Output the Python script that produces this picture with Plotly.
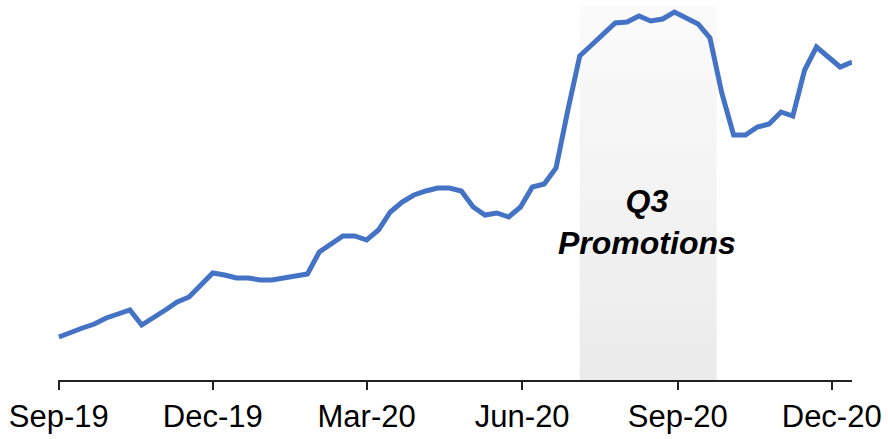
import plotly.graph_objects as go
import pandas as pd

# weekly series, Sep 2019 - Dec 2020
week_start = "2019-09-01"
sales = [43, 48, 52, 56, 62, 66, 70, 55, 62, 70,
         78, 83, 95, 107, 105, 102, 102, 100, 100, 102,
         105, 106, 128, 136, 144, 144, 140, 150, 168, 178,
         185, 189, 192, 192, 189, 173, 165, 167, 163, 173,
         193, 196, 212, 270, 324, 335, 346, 357, 358, 364,
         359, 361, 368, 362, 356, 342, 287, 245, 245, 253,
         256, 268, 264, 310, 333, 323, 313, 318]
weeks = pd.date_range(week_start, periods=len(sales), freq="7D")

tick_dates = ["2019-09-01", "2019-12-01", "2020-03-01", "2020-06-01", "2020-09-01", "2020-12-01"]
tick_labels = ["Sep-19", "Dec-19", "Mar-20", "Jun-20", "Sep-20", "Dec-20"]

promo_start = "2020-07-05"
promo_end = "2020-09-24"
promo_label = "Q3<br>Promotions"

y_range = [0, 374]

fig = go.Figure()

# shaded promo window
fig.add_trace(go.Scatter(
    x=[promo_start, promo_end, promo_end, promo_start, promo_start],
    y=[y_range[0], y_range[0], y_range[1], y_range[1], y_range[0]],
    mode="lines",
    line=dict(width=0),
    fill="toself",
    fillgradient=dict(type="vertical",
                      colorscale=[[0, "#ebebeb"], [1, "#fbfbfb"]]),
    hoverinfo="skip",
    showlegend=False,
))

fig.add_trace(go.Scatter(
    x=weeks,
    y=sales,
    mode="lines",
    line=dict(color="#4472C4", width=5),
    showlegend=False,
))

fig.add_annotation(
    x="2020-08-14", y=158,
    text="<b><i>" + promo_label + "</i></b>",
    showarrow=False,
    font=dict(family="Liberation Sans, Arial", size=32, color="black"),
    yanchor="middle",
)

fig.update_layout(
    width=888, height=439,
    margin=dict(l=58, r=36, t=6, b=59),
    plot_bgcolor="white",
    paper_bgcolor="white",
    font=dict(family="Liberation Sans, Arial", color="black"),
)

fig.update_xaxes(
    range=["2019-08-31 12:00", "2020-12-13"],
    tickvals=tick_dates,
    ticktext=tick_labels,
    tickfont=dict(size=31, color="black"),
    ticks="outside", ticklen=8, tickwidth=1.5, tickcolor="#222",
    showline=True, linecolor="#222", linewidth=2,
    showgrid=False, zeroline=False, automargin=False,
)
fig.update_yaxes(range=y_range, visible=False, showgrid=False)

# drop the page's default body margin so the figure sits at 0,0
fig.write_html("out.html", config={"displayModeBar": False},
               post_script="document.body.style.margin='0';")
